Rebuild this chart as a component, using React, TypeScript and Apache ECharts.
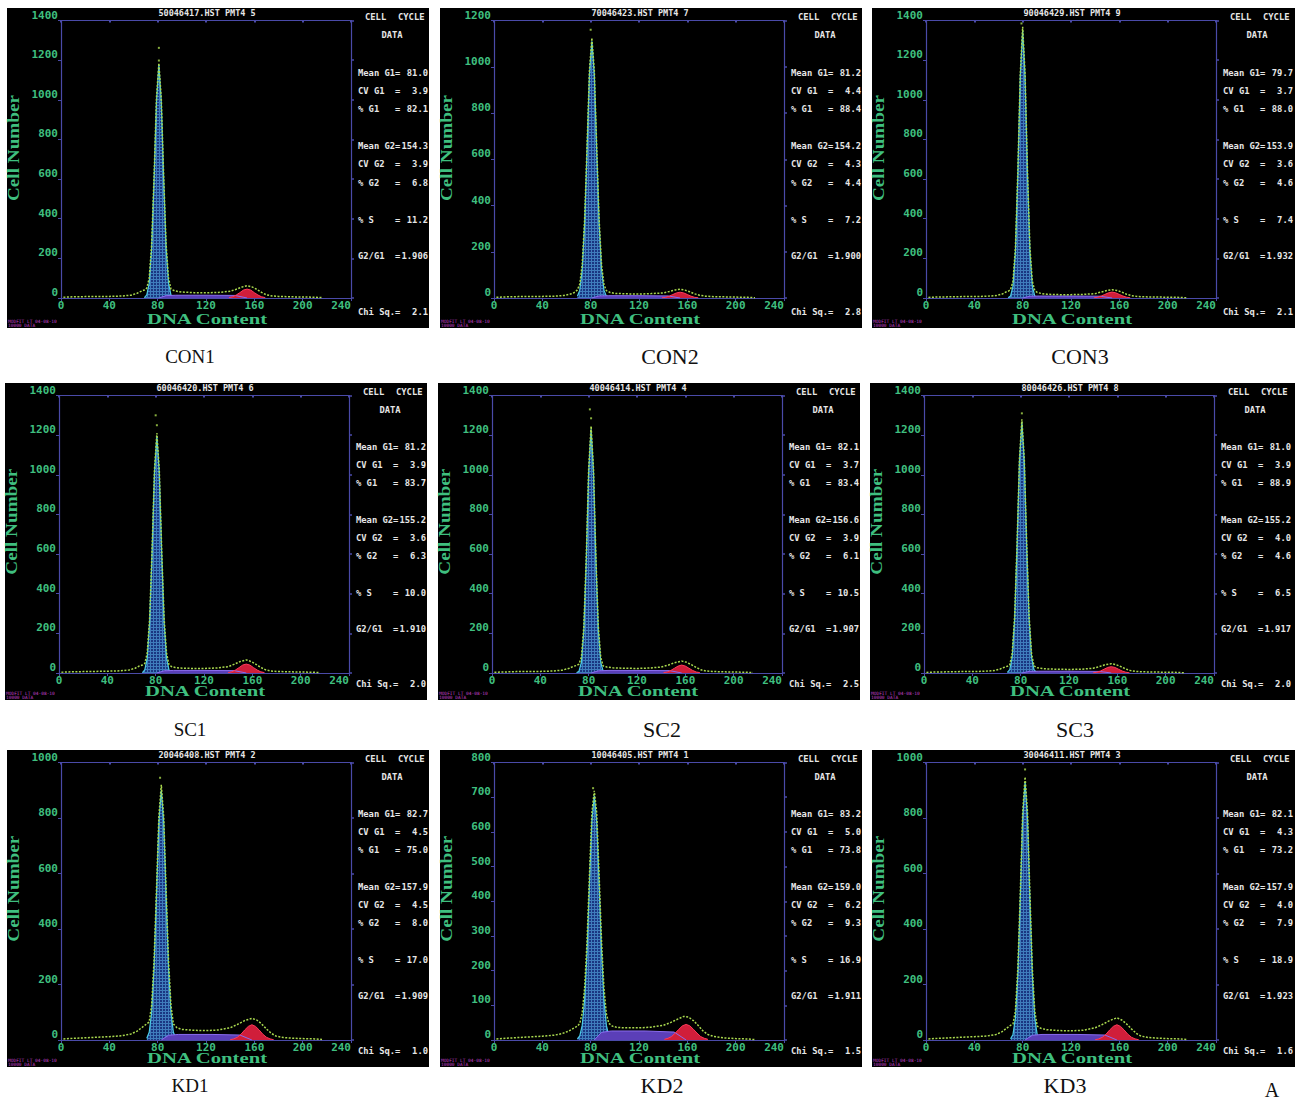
import React, { useEffect, useRef } from 'react';
import * as echarts from 'echarts';

// ---------- DATA ----------
const PANEL_NAMES = ['CON1', 'CON2', 'CON3', 'SC1', 'SC2', 'SC3', 'KD1', 'KD2', 'KD3'];
const FILE_TITLES = [
  '50046417.HST PMT4 5', '70046423.HST PMT4 7', '90046429.HST PMT4 9',
  '60046420.HST PMT4 6', '40046414.HST PMT4 4', '80046426.HST PMT4 8',
  '20046408.HST PMT4 2', '10046405.HST PMT4 1', '30046411.HST PMT4 3',
];
const Y_MAX = [1400, 1200, 1400, 1400, 1400, 1400, 1000, 800, 1000];
const Y_STEP = [200, 200, 200, 200, 200, 200, 200, 100, 200];
const X_MIN = 0;
const X_MAX = 240;
const X_STEP = 40;

const MEAN_G1 = ['81.0', '81.2', '79.7', '81.2', '82.1', '81.0', '82.7', '83.2', '82.1'];
const CV_G1 = ['3.9', '4.4', '3.7', '3.9', '3.7', '3.9', '4.5', '5.0', '4.3'];
const PCT_G1 = ['82.1', '88.4', '88.0', '83.7', '83.4', '88.9', '75.0', '73.8', '73.2'];
const MEAN_G2 = ['154.3', '154.2', '153.9', '155.2', '156.6', '155.2', '157.9', '159.0', '157.9'];
const CV_G2 = ['3.9', '4.3', '3.6', '3.6', '3.9', '4.0', '4.5', '6.2', '4.0'];
const PCT_G2 = ['6.8', '4.4', '4.6', '6.3', '6.1', '4.6', '8.0', '9.3', '7.9'];
const PCT_S = ['11.2', '7.2', '7.4', '10.0', '10.5', '6.5', '17.0', '16.9', '18.9'];
const RATIO = ['1.906', '1.900', '1.932', '1.910', '1.907', '1.917', '1.909', '1.911', '1.923'];
const CHI_SQ = ['2.1', '2.8', '2.1', '2.0', '2.5', '2.0', '1.0', '1.5', '1.6'];

// G1 peak (fitted)
const CON1_G1 = [[69, 2], [71, 16], [73, 74], [75, 248], [77, 589], [79, 988], [81, 1175], [83, 988], [85, 589], [87, 248], [89, 74], [91, 16], [93, 2]];
const CON2_G1 = [[69, 8], [71, 34], [73, 121], [75, 319], [77, 637], [79, 967], [81, 1110], [83, 967], [85, 637], [87, 319], [89, 121], [91, 34], [93, 8]];
const CON3_G1 = [[68, 1], [70, 10], [72, 59], [74, 232], [76, 618], [78, 1111], [80, 1350], [82, 1111], [84, 618], [86, 232], [88, 59], [90, 10], [92, 1]];
const SC1_G1 = [[69, 2], [71, 16], [73, 75], [75, 252], [77, 599], [79, 1005], [81, 1195], [83, 1005], [85, 599], [87, 252], [89, 75], [91, 16], [93, 2]];
const SC2_G1 = [[70, 1], [72, 9], [74, 54], [76, 212], [78, 563], [80, 1012], [82, 1230], [84, 1012], [86, 563], [88, 212], [90, 54], [92, 9], [94, 1]];
const SC3_G1 = [[69, 3], [71, 17], [73, 79], [75, 267], [77, 634], [79, 1064], [81, 1265], [83, 1064], [85, 634], [87, 267], [89, 79], [91, 17], [93, 3]];
const KD1_G1 = [[71, 6], [73, 28], [75, 98], [77, 258], [79, 517], [81, 784], [83, 900], [85, 784], [87, 517], [89, 258], [91, 98], [93, 28], [95, 6]];
const KD2_G1 = [[69, 3], [71, 12], [73, 42], [75, 115], [77, 254], [79, 448], [81, 630], [83, 705], [85, 630], [87, 448], [89, 254], [91, 115], [93, 42], [95, 12], [97, 3]];
const KD3_G1 = [[70, 4], [72, 20], [74, 79], [76, 232], [78, 501], [80, 797], [82, 930], [84, 797], [86, 501], [88, 232], [90, 79], [92, 20], [94, 4]];

// S phase (fitted)
const CON1_S = [[81, 0], [87, 12], [95, 14], [120, 14], [144, 13], [154, 0]];
const CON2_S = [[81, 0], [87, 9], [95, 10], [120, 10], [144, 9], [154, 0]];
const CON3_S = [[80, 0], [86, 9], [94, 10], [120, 10], [144, 9], [154, 0]];
const SC1_S = [[81, 0], [87, 11], [95, 13], [120, 13], [145, 12], [155, 0]];
const SC2_S = [[82, 0], [88, 11], [96, 13], [120, 13], [147, 12], [157, 0]];
const SC3_S = [[81, 0], [87, 8], [95, 9], [120, 9], [145, 8], [155, 0]];
const KD1_S = [[83, 0], [89, 17], [97, 20], [125, 20], [148, 18], [158, 0]];
const KD2_S = [[83, 0], [89, 22], [97, 26], [125, 26], [149, 23], [159, 0]];
const KD3_S = [[82, 0], [88, 17], [96, 20], [125, 20], [148, 18], [158, 0]];

// G2 peak (fitted)
const CON1_G2 = [[139, 2], [142, 6], [145, 15], [148, 27], [151, 40], [154, 45], [157, 40], [160, 27], [163, 15], [166, 6], [169, 2]];
const CON2_G2 = [[139, 1], [142, 3], [145, 8], [148, 15], [151, 22], [154, 25], [157, 22], [160, 15], [163, 8], [166, 3], [169, 1]];
const CON3_G2 = [[139, 1], [142, 4], [145, 10], [148, 18], [151, 26], [154, 30], [157, 26], [160, 18], [163, 10], [166, 4], [169, 1]];
const SC1_G2 = [[140, 2], [143, 6], [146, 15], [149, 27], [152, 40], [155, 45], [158, 40], [161, 27], [164, 15], [167, 6], [170, 2]];
const SC2_G2 = [[142, 2], [145, 5], [148, 13], [151, 24], [154, 35], [157, 40], [160, 35], [163, 24], [166, 13], [169, 5], [172, 2]];
const SC3_G2 = [[140, 1], [143, 4], [146, 10], [149, 19], [152, 28], [155, 32], [158, 28], [161, 19], [164, 10], [167, 4], [170, 1]];
const KD1_G2 = [[140, 1], [143, 4], [146, 10], [149, 21], [152, 36], [155, 49], [158, 55], [161, 49], [164, 36], [167, 21], [170, 10], [173, 4], [176, 1]];
const KD2_G2 = [[141, 2], [144, 5], [147, 10], [150, 20], [153, 31], [156, 41], [159, 45], [162, 41], [165, 31], [168, 20], [171, 10], [174, 5], [177, 2]];
const KD3_G2 = [[140, 1], [143, 4], [146, 10], [149, 21], [152, 36], [155, 49], [158, 55], [161, 49], [164, 36], [167, 21], [170, 10], [173, 4], [176, 1]];

// Raw histogram (measured)
const CON1_RAW = [[2, 4], [10, 6], [20, 7], [30, 8], [40, 8], [50, 10], [58, 14], [63, 24], [67, 36], [69, 40], [71, 50], [73, 100], [75, 270], [77, 610], [79, 1010], [81, 1185], [83, 1005], [85, 610], [87, 270], [89, 100], [91, 45], [94, 36], [100, 30], [110, 27], [120, 26], [130, 28], [140, 34], [145, 44], [150, 56], [154, 62], [158, 56], [162, 44], [166, 28], [170, 16], [175, 10], [180, 8], [190, 6], [200, 5], [210, 4], [216, 2]];
const CON2_RAW = [[2, 3], [10, 5], [20, 6], [30, 6], [40, 7], [50, 8], [58, 11], [64, 18], [67, 25], [69, 35], [71, 60], [73, 145], [75, 340], [77, 655], [79, 985], [81, 1125], [83, 985], [85, 655], [87, 340], [89, 145], [91, 58], [93, 32], [96, 24], [100, 20], [110, 18], [120, 17], [130, 19], [140, 22], [145, 28], [150, 35], [154, 38], [158, 34], [162, 27], [166, 18], [170, 12], [175, 8], [180, 6], [190, 5], [200, 4], [210, 3], [216, 1]];
const CON3_RAW = [[2, 3], [10, 5], [20, 6], [30, 7], [40, 7], [50, 9], [58, 12], [63, 20], [66, 30], [68, 34], [70, 42], [72, 85], [74, 255], [76, 640], [78, 1130], [80, 1368], [82, 1130], [84, 640], [86, 255], [88, 85], [90, 38], [92, 28], [96, 22], [100, 19], [110, 17], [120, 17], [130, 18], [140, 22], [145, 30], [150, 38], [154, 42], [158, 38], [162, 30], [166, 19], [170, 12], [175, 8], [180, 6], [190, 5], [200, 4], [210, 3], [216, 1]];
const SC1_RAW = [[2, 4], [10, 6], [20, 7], [30, 8], [40, 9], [50, 11], [58, 15], [63, 24], [66, 34], [69, 40], [71, 48], [73, 100], [75, 275], [77, 620], [79, 1025], [81, 1210], [83, 1025], [85, 620], [87, 275], [89, 100], [91, 42], [93, 33], [96, 28], [100, 25], [110, 23], [120, 23], [130, 25], [140, 32], [145, 44], [150, 58], [155, 66], [159, 58], [163, 44], [167, 28], [171, 16], [175, 10], [180, 8], [190, 6], [200, 5], [210, 4], [216, 2]];
const SC2_RAW = [[2, 4], [10, 5], [20, 7], [30, 8], [40, 8], [50, 10], [58, 14], [64, 24], [67, 33], [70, 38], [72, 45], [74, 80], [76, 235], [78, 585], [80, 1030], [82, 1245], [84, 1030], [86, 585], [88, 235], [90, 78], [92, 36], [95, 30], [100, 26], [110, 24], [120, 23], [130, 25], [140, 30], [146, 40], [151, 52], [157, 60], [161, 54], [165, 42], [169, 28], [173, 16], [177, 10], [182, 8], [190, 6], [200, 5], [210, 4], [216, 2]];
const SC3_RAW = [[2, 3], [10, 5], [20, 6], [30, 7], [40, 7], [50, 9], [58, 12], [63, 20], [66, 28], [69, 34], [71, 42], [73, 100], [75, 285], [77, 652], [79, 1080], [81, 1280], [83, 1080], [85, 652], [87, 285], [89, 98], [91, 36], [94, 26], [100, 21], [110, 19], [120, 18], [130, 19], [140, 24], [145, 32], [150, 42], [155, 47], [159, 42], [163, 32], [167, 20], [171, 12], [175, 8], [180, 6], [190, 5], [200, 4], [210, 3], [216, 1]];
const KD1_RAW = [[2, 4], [10, 6], [20, 8], [30, 10], [40, 12], [50, 15], [58, 22], [63, 32], [67, 45], [70, 55], [73, 65], [75, 125], [77, 285], [79, 540], [81, 805], [83, 920], [85, 805], [87, 540], [89, 285], [91, 125], [93, 58], [96, 44], [100, 38], [110, 35], [120, 34], [130, 36], [140, 44], [146, 56], [152, 70], [158, 78], [162, 72], [166, 58], [170, 40], [174, 24], [178, 14], [184, 9], [190, 7], [200, 5], [210, 4], [216, 2]];
const KD2_RAW = [[2, 3], [10, 5], [20, 7], [30, 9], [40, 11], [50, 14], [56, 18], [62, 26], [66, 34], [69, 40], [71, 48], [73, 78], [75, 150], [77, 285], [79, 475], [81, 655], [83, 718], [85, 655], [87, 475], [89, 285], [91, 150], [93, 75], [95, 48], [98, 40], [102, 36], [110, 35], [120, 35], [130, 37], [140, 42], [146, 50], [152, 60], [157, 68], [161, 66], [165, 56], [169, 42], [173, 26], [177, 16], [182, 10], [190, 6], [200, 4], [210, 3], [216, 1]];
const KD3_RAW = [[2, 4], [10, 6], [20, 8], [30, 10], [40, 12], [50, 14], [58, 20], [63, 30], [66, 40], [69, 50], [72, 58], [74, 105], [76, 258], [78, 525], [80, 820], [82, 948], [84, 820], [86, 525], [88, 258], [90, 105], [92, 50], [95, 42], [100, 37], [110, 34], [120, 33], [130, 35], [140, 44], [146, 56], [152, 70], [158, 80], [162, 72], [166, 58], [170, 40], [174, 24], [178, 14], [184, 9], [190, 7], [200, 5], [210, 4], [216, 2]];

// isolated high counts above the G1 peak
const CON1_OUT = [[81, 1262], [81, 1198]];
const CON2_OUT = [[80, 1160]];
const CON3_OUT = [[79, 1385]];
const SC1_OUT = [[80, 1300], [81, 1250]];
const SC2_OUT = [[81, 1330], [82, 1285]];
const SC3_OUT = [[81, 1310]];
const KD1_OUT = [[82, 945]];
const KD2_OUT = [[82, 726]];
const KD3_OUT = [[82, 975]];

const G1_SETS = [CON1_G1, CON2_G1, CON3_G1, SC1_G1, SC2_G1, SC3_G1, KD1_G1, KD2_G1, KD3_G1];
const S_SETS = [CON1_S, CON2_S, CON3_S, SC1_S, SC2_S, SC3_S, KD1_S, KD2_S, KD3_S];
const G2_SETS = [CON1_G2, CON2_G2, CON3_G2, SC1_G2, SC2_G2, SC3_G2, KD1_G2, KD2_G2, KD3_G2];
const RAW_SETS = [CON1_RAW, CON2_RAW, CON3_RAW, SC1_RAW, SC2_RAW, SC3_RAW, KD1_RAW, KD2_RAW, KD3_RAW];
const OUT_SETS = [CON1_OUT, CON2_OUT, CON3_OUT, SC1_OUT, SC2_OUT, SC3_OUT, KD1_OUT, KD2_OUT, KD3_OUT];

// ---------- LAYOUT ----------
const ROW_TOP = [8, 383, 750];
const ROW_H = [320, 317, 317];
const COL_LEFT = [[7, 440, 872], [5, 438, 870], [7, 440, 872]];
const LABEL_POS = [[190, 356], [670, 356], [1080, 356], [190, 729], [662, 729], [1075, 729], [190, 1085], [662, 1085], [1065, 1085]];
const LABEL_SIZE = [19, 22, 22, 19, 22, 22, 19, 22, 22];

const GREEN = '#3fbf7f';
const FRAME = '#4a4aa8';
const WHITE = '#e6e6e6';
const RAW_C = '#a9d84e';
const CYAN = '#4ccbe8';
const MONO = '"DejaVu Sans Mono", monospace';
const SERIF = '"Liberation Serif", "DejaVu Serif", serif';

function makeHatch(): any {
  try {
    const c = document.createElement('canvas');
    c.width = 3;
    c.height = 3;
    const g = c.getContext('2d');
    if (!g) return '#2c4c9c';
    g.fillStyle = '#1a3682';
    g.fillRect(0, 0, 3, 3);
    g.fillStyle = '#3f7cbc';
    g.fillRect(0, 0, 3, 1);
    g.fillRect(0, 0, 1, 3);
    return { image: c, repeat: 'repeat' };
  } catch (e) {
    return '#2c4c9c';
  }
}

function txt(x: number, y: number, text: string, o: any = {}, extra: any = {}) {
  return {
    type: 'text',
    x,
    y,
    z: 50,
    ...extra,
    style: {
      text,
      fill: o.fill || WHITE,
      fontSize: o.fontSize || 9,
      fontFamily: o.fontFamily || MONO,
      fontWeight: o.fontWeight || 'bold',
      align: o.align || 'left',
      textAlign: o.align || 'left',
      verticalAlign: 'middle',
      textVerticalAlign: 'middle',
    },
  };
}

function buildOption() {
  const hatch = makeHatch();
  const grids: any[] = [];
  const xAxes: any[] = [];
  const yAxes: any[] = [];
  const series: any[] = [];
  const graphics: any[] = [];

  for (let i = 0; i < 9; i++) {
    const row = Math.floor(i / 3);
    const col = i % 3;
    const L = COL_LEFT[row][col];
    const T = ROW_TOP[row];
    const H = ROW_H[row];
    const W = col === 2 ? 440 : 422;
    const k = H / 320;

    graphics.push({ type: 'rect', z: -10, shape: { x: L, y: T, width: W, height: H }, style: { fill: '#000' } });

    grids.push({ left: L + 54, top: T + 12.5, width: 290, height: 277.5, show: false });

    const axLine = { show: true, onZero: false, lineStyle: { color: FRAME, width: 1.2 } };
    const lab = { color: GREEN, fontFamily: MONO, fontWeight: 'bold', fontSize: 11, formatter: (v: number) => String(v) };
    xAxes.push({
      gridIndex: i, type: 'value', min: X_MIN, max: X_MAX, interval: X_STEP, position: 'bottom',
      axisLine: axLine, axisTick: { show: true, length: 3, lineStyle: { color: FRAME } },
      axisLabel: { ...lab, margin: 2, alignMaxLabel: 'right' }, splitLine: { show: false },
    });
    xAxes.push({
      gridIndex: i, type: 'value', min: X_MIN, max: X_MAX, interval: X_STEP, position: 'top',
      axisLine: axLine, axisTick: { show: true, length: 2, inside: true, lineStyle: { color: FRAME, width: 2 } },
      axisLabel: { show: false }, splitLine: { show: false },
    });
    yAxes.push({
      gridIndex: i, type: 'value', min: 0, max: Y_MAX[i], interval: Y_STEP[i], position: 'left',
      axisLine: axLine, axisTick: { show: true, length: 3, lineStyle: { color: FRAME } },
      axisLabel: { ...lab, margin: 3, verticalAlign: 'bottom' }, splitLine: { show: false },
    });
    yAxes.push({
      gridIndex: i, type: 'value', min: 0, max: Y_MAX[i], interval: Y_STEP[i], position: 'right',
      axisLine: axLine, axisTick: { show: true, length: 3, lineStyle: { color: FRAME, width: 1.5 } },
      axisLabel: { show: false }, splitLine: { show: false },
    });

    const xa = 2 * i;
    const ya = 2 * i;
    series.push({
      type: 'line', xAxisIndex: xa, yAxisIndex: ya, data: G1_SETS[i], symbol: 'none', z: 2,
      lineStyle: { color: CYAN, width: 1.2 }, areaStyle: { color: hatch, opacity: 1 },
    });
    series.push({
      type: 'line', xAxisIndex: xa, yAxisIndex: ya, data: S_SETS[i], symbol: 'none', z: 3,
      lineStyle: { color: '#8a6cf0', width: 1 }, areaStyle: { color: '#5b3fb8', opacity: 1 },
    });
    series.push({
      type: 'line', xAxisIndex: xa, yAxisIndex: ya, data: G2_SETS[i], symbol: 'none', z: 3,
      lineStyle: { color: '#ff3a5a', width: 1 }, areaStyle: { color: '#d01e3a', opacity: 1 },
    });
    series.push({
      type: 'line', xAxisIndex: xa, yAxisIndex: ya, data: RAW_SETS[i], symbol: 'none', z: 5,
      lineStyle: { color: RAW_C, width: 1.5, type: [2, 1.5] },
    });
    series.push({
      type: 'scatter', xAxisIndex: xa, yAxisIndex: ya, data: OUT_SETS[i], symbol: 'rect', symbolSize: 2, z: 6,
      itemStyle: { color: RAW_C },
    });

    // texts inside panel
    graphics.push(txt(L + 200, T + 5, FILE_TITLES[i], { align: 'center', fontSize: 8.5 }));
    graphics.push(txt(L + 200, T + 311 * k, 'DNA Content', { align: 'center', fontSize: 15, fontFamily: SERIF, fill: GREEN }, { scaleX: 1.38 }));
    graphics.push(txt(L + 7, T + 140 * k, 'Cell Number', { align: 'center', fontSize: 16, fontFamily: SERIF, fill: GREEN }, { rotation: Math.PI / 2, scaleX: 1.2 }));
    graphics.push(txt(L + 1, T + 313 * k, 'MODFIT LT 04-08-10', { fontSize: 4.5, fill: '#c040c8', fontWeight: 'normal' }));
    graphics.push(txt(L + 1, T + 317.5 * k, '10000 DATA', { fontSize: 4.5, fill: '#c040c8', fontWeight: 'normal' }));

    const sx = L + 351;
    graphics.push(txt(sx + 7, T + 9 * k, 'CELL', { fontSize: 8.8 }));
    graphics.push(txt(sx + 40, T + 9 * k, 'CYCLE', { fontSize: 8.8 }));
    graphics.push(txt(sx + 34, T + 27 * k, 'DATA', { align: 'center', fontSize: 8.8 }));
    const lines: [string, string, number][] = [
      ['Mean G1', MEAN_G1[i], 65],
      ['CV G1', CV_G1[i], 83],
      ['% G1', PCT_G1[i], 101],
      ['Mean G2', MEAN_G2[i], 138],
      ['CV G2', CV_G2[i], 156],
      ['% G2', PCT_G2[i], 175],
      ['% S', PCT_S[i], 212],
      ['G2/G1', RATIO[i], 248],
      ['Chi Sq.', CHI_SQ[i], 304],
    ];
    lines.forEach(([name, val, yy]) => {
      const y = T + yy * k;
      graphics.push(txt(sx, y, name, { fontSize: 8.8 }));
      graphics.push(txt(sx + 37, y, '=', { fontSize: 8.8 }));
      graphics.push(txt(sx + 70, y, val, { fontSize: 8.8, align: 'right' }));
    });

    // caption under panel
    graphics.push(txt(LABEL_POS[i][0], LABEL_POS[i][1], PANEL_NAMES[i], {
      align: 'center', fontSize: LABEL_SIZE[i], fontFamily: SERIF, fill: '#111', fontWeight: 'normal',
    }));
  }
  graphics.push(txt(1272, 1090, 'A', { align: 'center', fontSize: 20, fontFamily: SERIF, fill: '#111', fontWeight: 'normal' }));

  return {
    animation: false,
    backgroundColor: '#ffffff',
    grid: grids,
    xAxis: xAxes,
    yAxis: yAxes,
    series,
    graphic: { elements: graphics },
  };
}

export default function App() {
  const ref = useRef<HTMLDivElement>(null);
  useEffect(() => {
    if (!ref.current) return;
    const chart = echarts.init(ref.current, undefined, { renderer: 'svg' });
    chart.setOption(buildOption() as any);
    return () => chart.dispose();
  }, []);
  return (
    <div
      ref={ref}
      style={{ position: 'absolute', left: 0, top: 0, width: 1295, height: 1100, overflow: 'hidden' }}
    />
  );
}
